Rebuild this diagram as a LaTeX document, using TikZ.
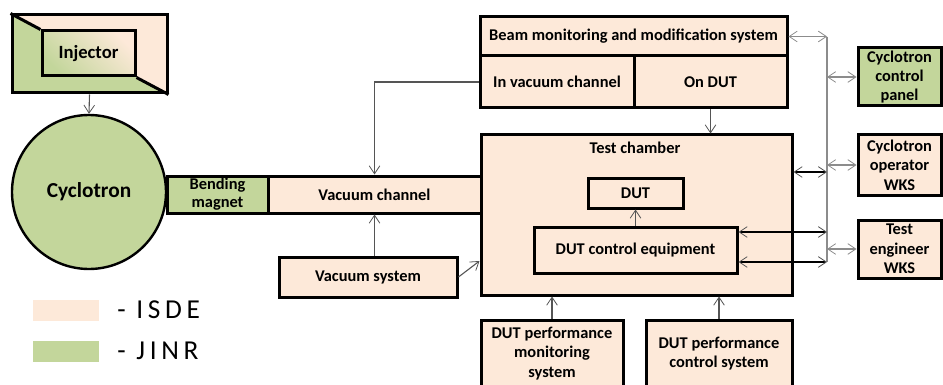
\documentclass[tikz,border=0pt]{standalone}
\usepackage{fontspec}
\setmainfont{Carlito}
\newfontfamily\keyfont[LetterSpace=17]{Carlito}
\usetikzlibrary{arrows.meta}

\newdimen\px \px=0.75pt
\definecolor{isde}{HTML}{FDE9D9}
\definecolor{jinr}{HTML}{C3D69B}
\definecolor{wire}{HTML}{555555}
\definecolor{busline}{HTML}{8C8C8C}

\begin{document}
\begin{tikzpicture}[x=0.75pt, y=-0.75pt,
    box/.style={draw, line width=3\px, fill=isde, align=center, inner sep=0pt,
        font=\bfseries\fontsize{12.3}{14.5}\selectfont},
    greenbox/.style={box, fill=jinr},
    tip/.tip={Straight Barb[length=6pt,width=8pt,line width=0.6pt]},
    greytip/.tip={Straight Barb[length=6pt,width=8pt,line width=0.6pt,color=wire]},
    conn/.style={draw=wire, line width=1.1\px, -tip},
    both/.style={conn, tip-tip},
    bus/.style={both, draw=busline},
    link/.style={draw=black, line width=1.1\px, greytip-greytip},
    key/.style={minimum width=66\px, minimum height=21\px, inner sep=0pt},
    keytext/.style={anchor=west, font=\keyfont\fontsize{20.5}{24}\selectfont, inner sep=0pt}]
    % \draw[help lines, step=50] (0,0) grid (943,385);
    \useasboundingbox (0,0) rectangle (943,385);

    % injector
    \fill[isde] (12,15) -- (167,15) -- (167,93) -- (135,76) -- (135,31) -- (42,31) -- cycle;
    \fill[jinr] (12,15) -- (42,31) -- (42,76) -- (135,76) -- (167,93) -- (12,93) -- cycle;
    \node[box, fill=none, minimum width=155\px, minimum height=78\px] (injframe) at (89.5,54) {};
    \node[box, left color=jinr, right color=isde, shading angle=135, font=\bfseries\fontsize{14}{16}\selectfont,
        minimum width=93\px, minimum height=45\px] (injector) at (88.5,53.5) {Injector};
    \draw[line width=3\px] (injframe.north west) -- (injector.north west);
    \draw[line width=3\px] (injector.south east) -- (injframe.south east);

    \node[greenbox, circle, line width=2.4\px, minimum size=154\px, font=\bfseries\fontsize{16}{18}\selectfont]
        (cyclotron) at (89,192) {Cyclotron};
    \node[greenbox, minimum width=101\px, minimum height=37\px, font=\bfseries\fontsize{12.3}{13.5}\selectfont]
        (bending) at (217.5,194.5) {Bending\\magnet};
    \node[box, minimum width=213\px, minimum height=37\px] (vacchannel) at (374.5,194.5) {Vacuum channel};
    \node[box, minimum width=178\px, minimum height=40\px] (vacsystem) at (368,277) {Vacuum system};

    % beam monitoring
    \node[box, minimum width=307\px, minimum height=39\px] (beam) at (633.5,36.5) {Beam monitoring and modification system};
    \node[box, minimum width=154\px, minimum height=52\px] (invac) at (557,82) {In vacuum channel};
    \node[box, minimum width=153\px, minimum height=52\px] (ondut) at (710.5,82) {On DUT};

    % test chamber
    \node[box, minimum width=311\px, minimum height=160\px] (chamber) at (636.5,215) {};
    \node[font=\bfseries\fontsize{12.3}{14.5}\selectfont, inner sep=0pt] (chambertitle) at (635,148) {Test chamber};
    \node[box, minimum width=95\px, minimum height=30\px] (dut) at (635.5,193) {DUT};
    \node[box, minimum width=203\px, minimum height=46\px] (dutctrl) at (635.5,250) {DUT control equipment};

    \node[box, minimum width=142\px, minimum height=67\px] (perfmon) at (552,353.5) {DUT performance\\monitoring\\system};
    \node[box, minimum width=146\px, minimum height=67\px] (perfctrl) at (719,353.5) {DUT performance\\control system};

    % workstations
    \node[greenbox, minimum width=83\px, minimum height=58\px] (ccp) at (899.5,77) {Cyclotron\\control\\panel};
    \node[box, minimum width=83\px, minimum height=60\px] (cow) at (899.5,165) {Cyclotron\\operator\\WKS};
    \node[box, minimum width=83\px, minimum height=58\px] (tew) at (899.5,249) {Test\\engineer\\WKS};

    % legend
    \node[key, fill=isde] (isdekey) at (65.5,310) {};
    \node[keytext] (isdetext) at (117,310) {- ISDE};
    \node[key, fill=jinr] (jinrkey) at (66,351) {};
    \node[keytext] (jinrtext) at (117,351) {- JINR};

    % connectors
    \draw[conn] (injframe.south) -- (cyclotron.north);
    \draw[conn] (invac.west) -| (vacchannel.north);
    \draw[conn] (vacsystem.north -| vacchannel.south) -- (vacchannel.south);
    \draw[conn] (vacsystem.east) -- ([yshift=-46\px]chamber.west);
    \draw[conn] (ondut.south) -- (ondut.south |- chamber.north);
    \draw[conn] (dutctrl.north) -- (dut.south);
    \draw[conn] (perfmon.north) -- (perfmon.north |- chamber.south);
    \draw[conn] (perfctrl.north) -- (perfctrl.north |- chamber.south);

    \coordinate (bustop) at (827,37);
    \coordinate (busbot) at (827,262);
    \draw[draw=busline, line width=1.1\px] (bustop) -- (busbot);
    \draw[bus] (beam.east) -- (beam.east -| bustop);
    \draw[bus] (ccp.west -| bustop) -- (ccp.west);
    \draw[bus] (cow.west -| bustop) -- (cow.west);
    \draw[bus] (tew.west -| bustop) -- (tew.west);
    \draw[link] ([yshift=43\px]chamber.east) -- ([yshift=43\px]chamber.east -| bustop);
    \draw[link] ([yshift=18\px]dutctrl.east) -- ([yshift=18\px]dutctrl.east -| bustop);
    \draw[link] ([yshift=-12\px]dutctrl.east) -- (busbot);
\end{tikzpicture}
\end{document}
